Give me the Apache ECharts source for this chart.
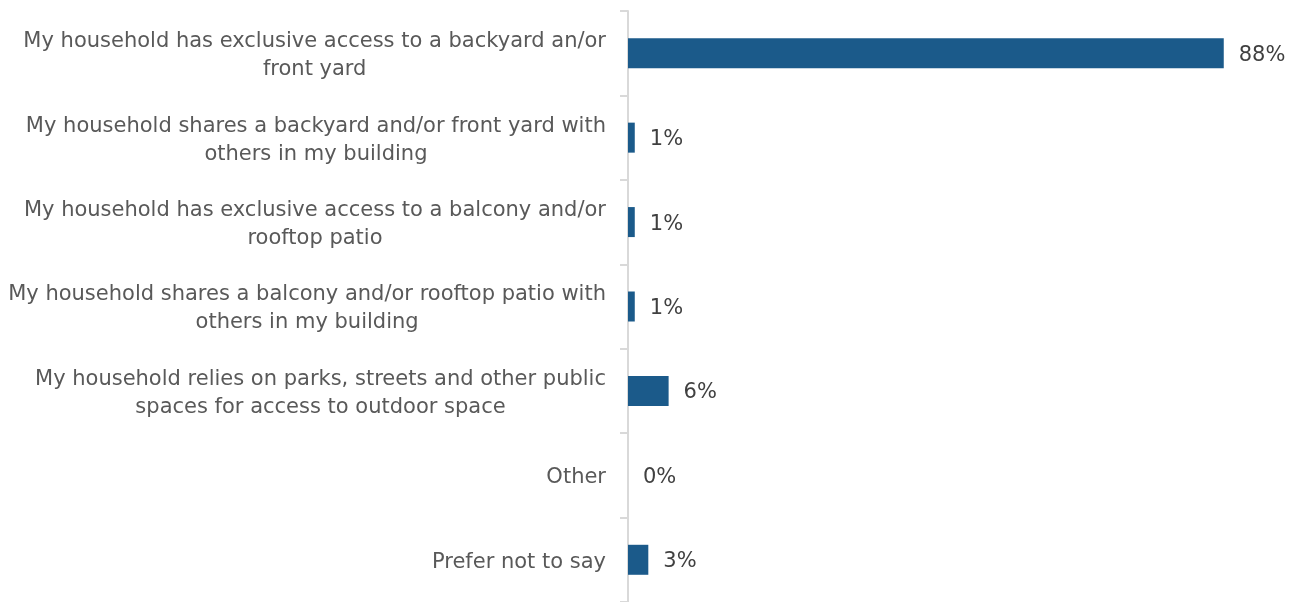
<!DOCTYPE html>
<html>
<head>
<meta charset="utf-8">
<script src="https://cdn.jsdelivr.net/npm/echarts@6/dist/echarts.min.js"></script>
<style>
  html, body { margin: 0; padding: 0; background: #ffffff; }
  #chart { width: 1306px; height: 602px; }
</style>
</head>
<body>
<div id="chart"></div>
<script>
// Outdoor space access, share of households (%)
const categories = [
  'My household has exclusive access to a backyard an/or\nfront yard',
  'My household shares a backyard and/or front yard with\nothers in my building',
  'My household has exclusive access to a balcony and/or\nrooftop patio',
  'My household shares a balcony and/or rooftop patio with\nothers in my building',
  'My household relies on parks, streets and other public\nspaces for access to outdoor space',
  'Other',
  'Prefer not to say'
];
const shares = [88, 1, 1, 1, 6, 0, 3];

const FONT = '"DejaVu Sans", "Liberation Sans", Arial, sans-serif';

const chart = echarts.init(document.getElementById('chart'), null, { renderer: 'canvas' });

chart.setOption({
  backgroundColor: '#ffffff',
  animation: false,
  grid: { left: 628, right: 1, top: 11, height: 593, containLabel: false },
  xAxis: {
    type: 'value',
    min: 0,
    max: 100,
    show: false
  },
  yAxis: {
    type: 'category',
    inverse: true,
    data: categories,
    axisLine: { show: true, lineStyle: { color: '#d9d9d9', width: 2 } },
    axisTick: { show: true, length: 8, lineStyle: { color: '#d9d9d9', width: 2 } },
    axisLabel: {
      margin: 22,
      color: '#595959',
      fontFamily: FONT,
      fontSize: 21,
      lineHeight: 28,
      padding: [5, 0, 0, 0],
      // each line centred inside the right-aligned label block
      formatter: function (value) {
        return value.split('\n').map(function (line) { return '{c|' + line + '}'; }).join('\n');
      },
      rich: {
        c: { align: 'center', color: '#595959', fontFamily: FONT, fontSize: 21, lineHeight: 28 }
      }
    },
    splitLine: { show: false }
  },
  series: [{
    type: 'bar',
    data: shares,
    barWidth: 30,
    itemStyle: { color: '#1b5a8a' },
    label: {
      show: true,
      position: 'right',
      distance: 15,
      offset: [0, 2],
      color: '#404040',
      fontFamily: FONT,
      fontSize: 21,
      formatter: function (p) { return p.value + '%'; }
    }
  }]
});
</script>
</body>
</html>
